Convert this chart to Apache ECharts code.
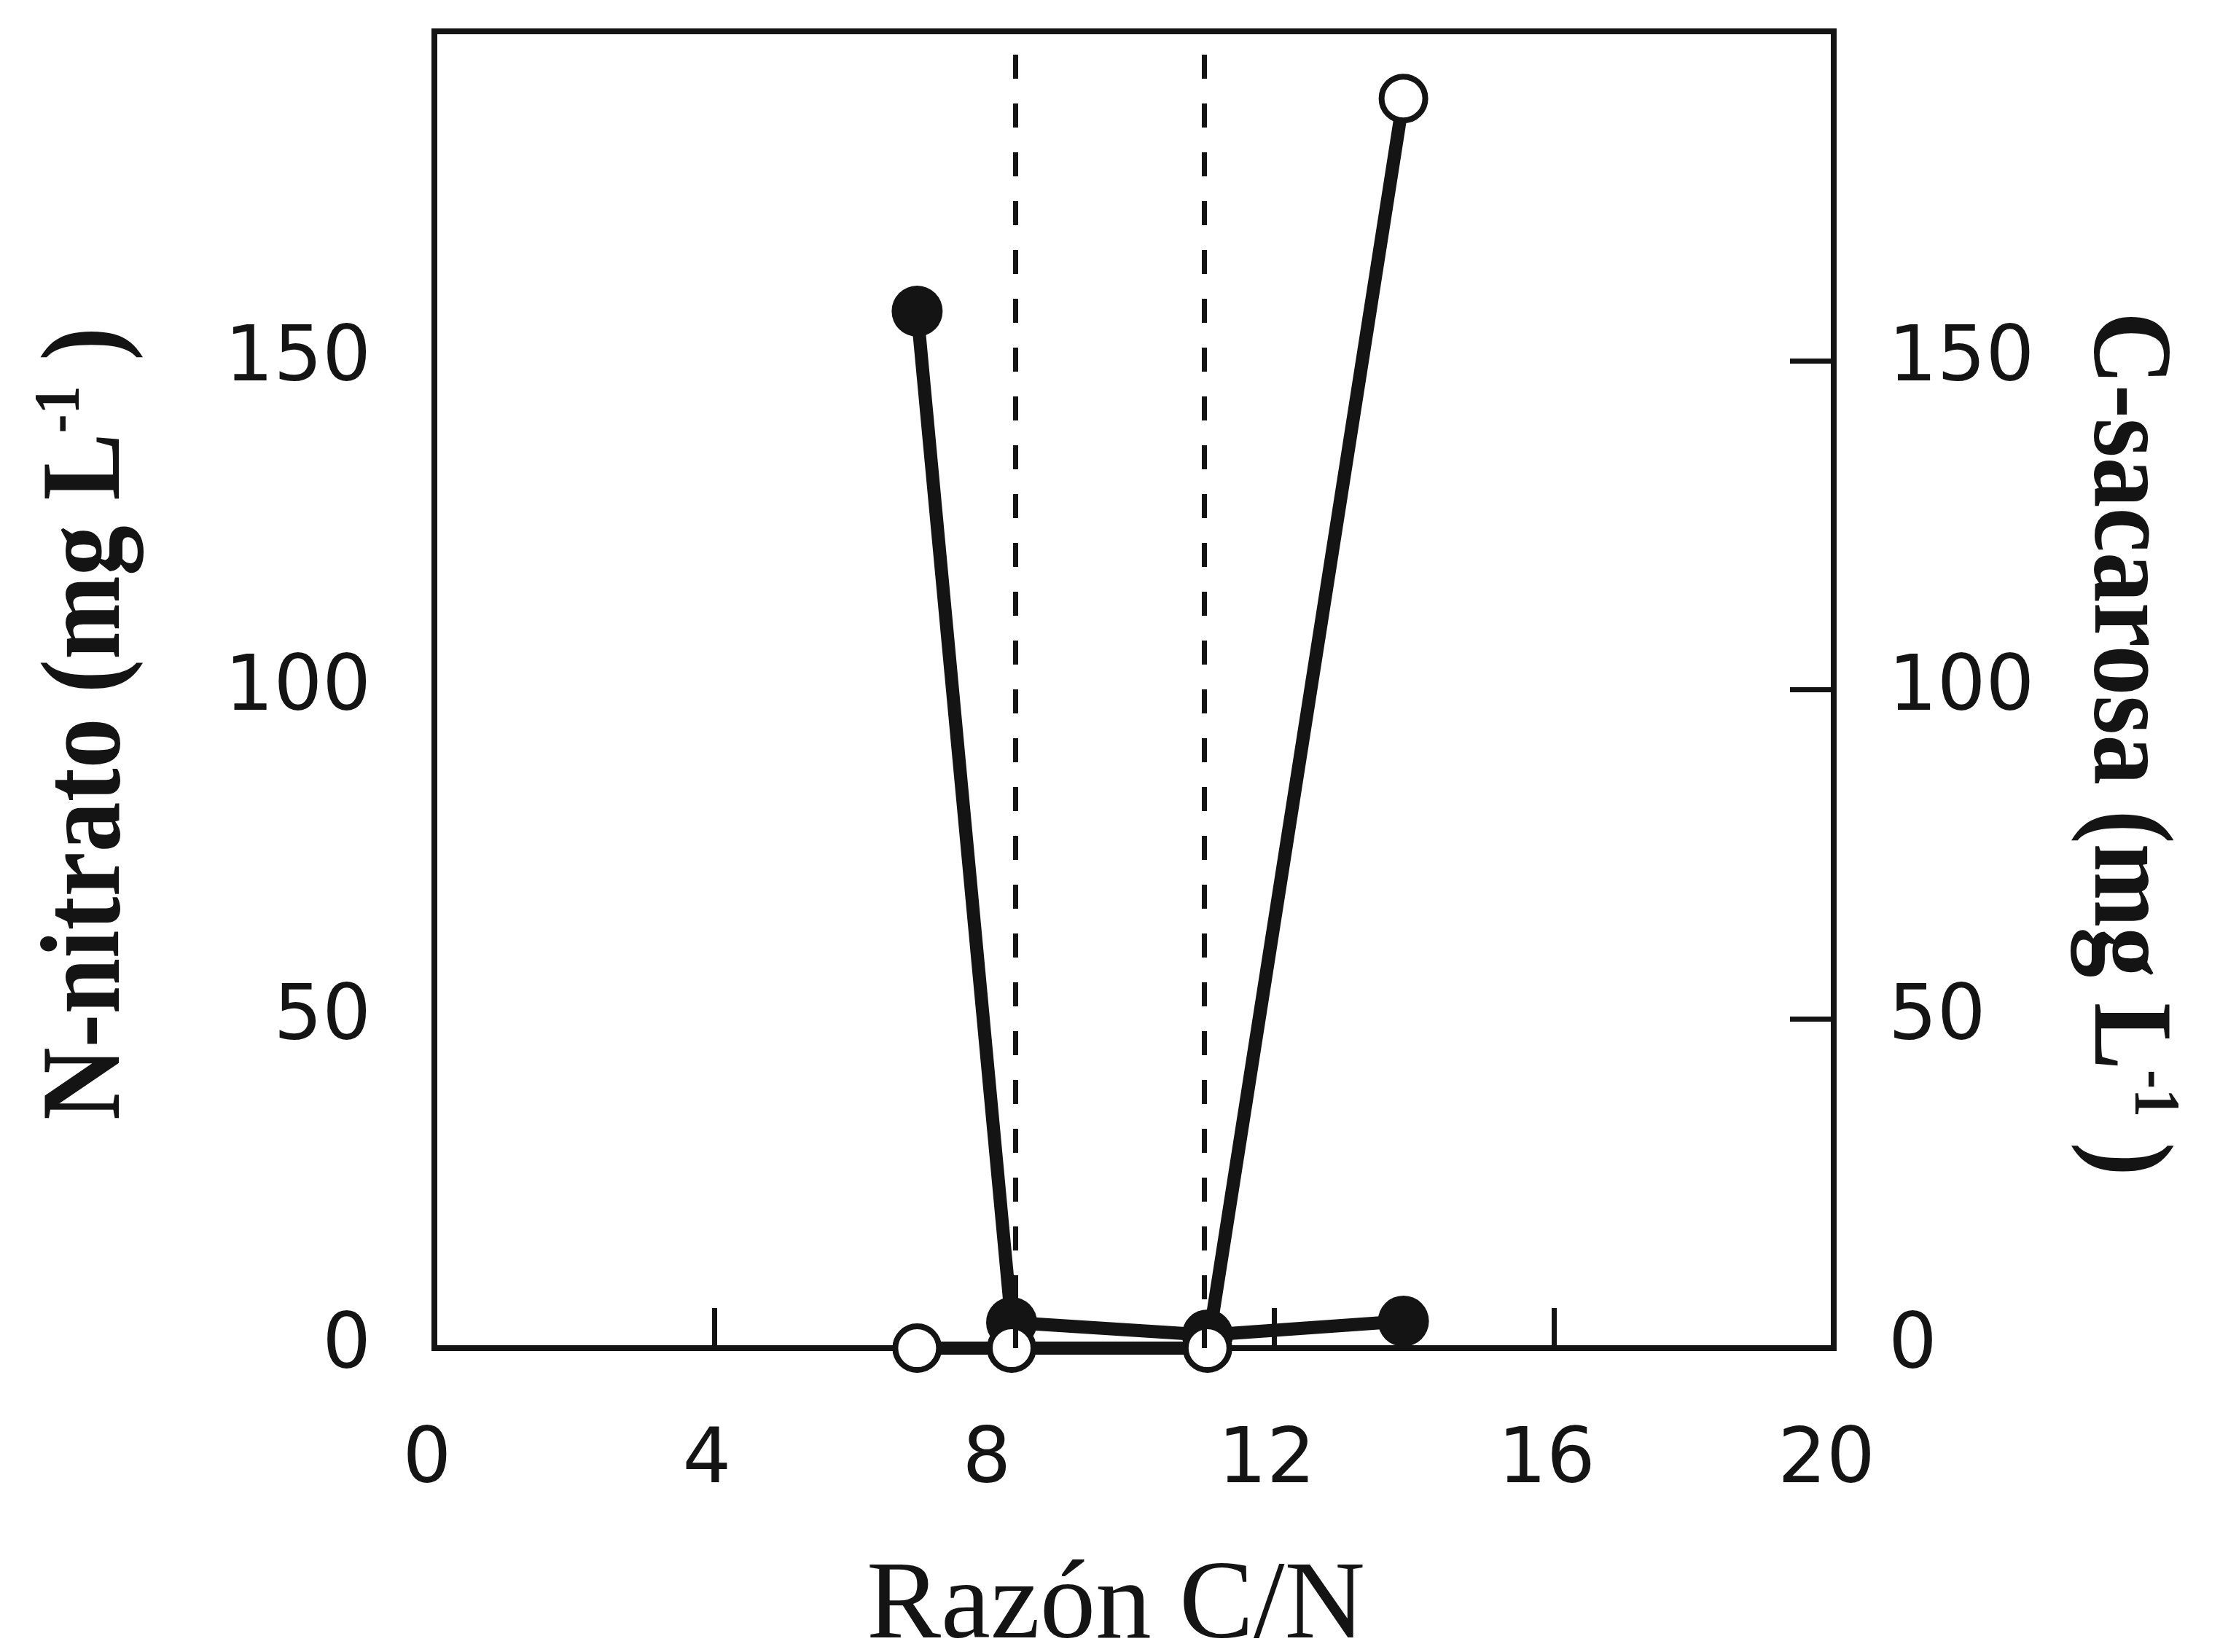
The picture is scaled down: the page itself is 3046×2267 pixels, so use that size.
<!DOCTYPE html>
<html>
<head>
<meta charset="utf-8">
<script src="https://cdn.jsdelivr.net/npm/echarts@6/dist/echarts.min.js"></script>
<style>
  html, body { margin: 0; padding: 0; background: #fff; }
  #chart { width: 3046px; height: 2267px; }
</style>
</head>
<body>
<div id="chart"></div>
<script>
// C/N ratio of each treatment
const cnRatio = [6.9, 8.25, 11.05, 13.85];
// Residual nitrate nitrogen (mg L-1), left axis
const nitrato = [157.5, 3.9, 2.0, 4.1];
// Residual sucrose carbon (mg L-1), right axis
const sacarosa = [0, 0, 0, 189.8];
// Reference C/N ratios marked with dashed lines
const refLines = [8.3, 11.0];
// Tick values
const xTicks = [0, 4, 8, 12, 16, 20];
const yTicks = [0, 50, 100, 150, 200];

const ink = '#141414';
const numFont = "'DejaVu Sans', sans-serif";
const serifFont = "'Liberation Serif', 'Times New Roman', serif";

function pairs(xs, ys) { return xs.map((x, i) => [x, ys[i]]); }

// Bold serif axis titles with a superscript exponent
const titleRich = {
  b: { fontFamily: serifFont, fontWeight: 'bold', fontSize: 155, fill: ink, lineHeight: 160, verticalAlign: 'bottom' },
  sup: { fontFamily: serifFont, fontWeight: 'bold', fontSize: 88, fill: ink, lineHeight: 88, verticalAlign: 'bottom', padding: [0, 0, 72, 0] }
};

const chart = echarts.init(document.getElementById('chart'), null, { renderer: 'canvas' });
chart.setOption({
  animation: false,
  backgroundColor: '#ffffff',
  grid: {
    left: 596, right: 530, top: 43, bottom: 417,
    outerBoundsMode: 'none', containLabel: false,
    show: true, borderColor: ink, borderWidth: 8, backgroundColor: 'transparent'
  },
  xAxis: {
    type: 'value', min: xTicks[0], max: xTicks[xTicks.length - 1], interval: 4,
    name: 'Razón C/N', nameLocation: 'middle', nameGap: 280, nameMoveOverlap: false,
    nameTextStyle: { fontFamily: serifFont, fontSize: 153, color: ink, padding: [0, 50, 0, 0] },
    axisLine: { show: true, lineStyle: { color: ink, width: 8 } },
    axisTick: { show: true, inside: true, length: 55, lineStyle: { color: ink, width: 7 } },
    axisLabel: { fontFamily: numFont, fontSize: 105, color: ink, margin: 104, padding: [0, 20, 0, 0] },
    splitLine: { show: false }
  },
  yAxis: [
    {
      type: 'value', min: yTicks[0], max: yTicks[yTicks.length - 1], interval: 50, position: 'left',
      axisLine: { show: true, lineStyle: { color: ink, width: 8 } },
      axisTick: { show: false },
      axisLabel: { fontFamily: numFont, fontSize: 105, color: ink, margin: 87, showMaxLabel: false },
      splitLine: { show: false }
    },
    {
      type: 'value', min: yTicks[0], max: yTicks[yTicks.length - 1], interval: 50, position: 'right',
      axisLine: { show: true, lineStyle: { color: ink, width: 8 } },
      axisTick: { show: true, inside: true, length: 60, lineStyle: { color: ink, width: 7 } },
      axisLabel: { fontFamily: numFont, fontSize: 105, color: ink, margin: 75, showMaxLabel: false },
      splitLine: { show: false }
    }
  ],
  graphic: [
    {
      type: 'text', x: 120, y: 993, rotation: Math.PI / 2, scaleX: 0.89, z: 10,
      style: { text: '{b|N-nitrato (mg L}{sup|-1}{b| )}', rich: titleRich, align: 'center', verticalAlign: 'middle' }
    },
    {
      type: 'text', x: 2918, y: 1021, rotation: -Math.PI / 2, scaleX: 0.89, z: 10,
      style: { text: '{b|C-sacarosa (mg L}{sup|-1}{b| )}', rich: titleRich, align: 'center', verticalAlign: 'middle' }
    }
  ],
  series: [
    {
      name: 'N-nitrato', type: 'line', xAxisIndex: 0, yAxisIndex: 0,
      data: pairs(cnRatio, nitrato),
      symbol: 'circle', symbolSize: 70,
      itemStyle: { color: ink, borderColor: ink, borderWidth: 0 },
      lineStyle: { color: ink, width: 18 },
      z: 3,
      markLine: {
        silent: true, symbol: 'none', label: { show: false },
        lineStyle: { color: ink, width: 7, type: [33, 34] },
        data: refLines.map(v => ({ xAxis: v }))
      }
    },
    {
      name: 'C-sacarosa', type: 'line', xAxisIndex: 0, yAxisIndex: 1,
      data: pairs(cnRatio, sacarosa),
      symbol: 'circle', symbolSize: 60,
      itemStyle: { color: '#ffffff', borderColor: ink, borderWidth: 8 },
      lineStyle: { color: ink, width: 18 },
      z: 4
    }
  ]
});
</script>
</body>
</html>
